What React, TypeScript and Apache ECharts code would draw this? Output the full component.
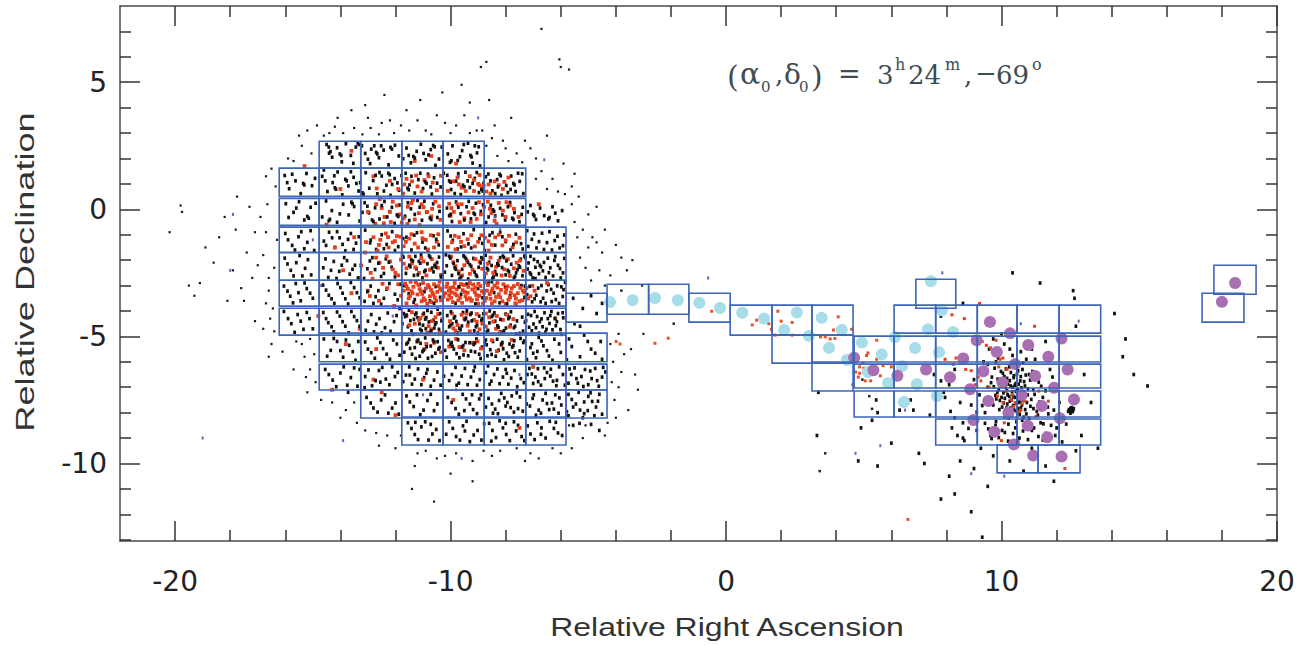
import React, { useEffect, useRef } from "react";
import * as echarts from "echarts";

const xMajor = [-20, -10, 0, 10, 20];
const xMinor = [-18, -16, -14, -12, -8, -6, -4, -2, 2, 4, 6, 8, 12, 14, 16, 18];
const yMajor = [5, 0, -5, -10];
const yMinor = [7, 6, 4, 3, 2, 1, -1, -2, -3, -4, -6, -7, -8, -9, -11, -12, -13];

const lmcRaEdges = [-16.22, -14.77, -13.26, -11.77, -10.27, -8.78, -7.27, -5.81, -4.32];
const lmcRows = [
  [1, 5, 2.68, 1.62], [0, 6, 1.62, 0.51], [0, 6, 0.43, -0.63], [0, 7, -0.7, -1.69], [0, 7, -1.71, -2.79],
  [0, 7, -2.79, -3.81], [0, 7, -3.89, -4.95], [1, 8, -4.87, -6.0], [1, 8, -6.09, -7.11], [2, 8, -7.11, -8.21], [3, 7, -8.17, -9.27],
];
const smcRaEdges = [4.65, 6.1, 7.61, 9.12, 10.56, 12.09, 13.6];
const smcRows = [
  [1, 6, -3.77, -4.87], [0, 6, -4.99, -6.01], [0, 6, -6.09, -7.03], [0, 6, -7.15, -8.17], [2, 6, -8.25, -9.27],
];
const extraTiles = [
  [-4.32, -2.95, -2.81, -4.13], [-2.81, -2.95, -1.35, -4.13], [-1.35, -3.3, 0.15, -4.44], [-5.81, -3.3, -4.32, -4.44],
  [0.15, -3.77, 1.67, -4.95], [1.67, -3.77, 3.12, -4.95], [3.12, -3.77, 4.61, -4.95],
  [1.67, -4.95, 3.12, -6.05], [3.12, -4.95, 4.61, -6.05], [3.12, -6.01, 4.61, -7.15],
  [6.89, -2.75, 8.34, -3.89], [9.84, -9.27, 11.33, -10.37], [11.33, -9.27, 12.85, -10.37],
  [17.71, -2.2, 19.24, -3.34], [17.28, -3.3, 18.8, -4.44],
];

const purpleFields = [
  [9.58,-4.43],[10.31,-4.88],[9.10,-5.15],[12.18,-5.08],[10.97,-5.34],[9.83,-5.61],[8.61,-5.87],[11.70,-5.80],[4.65,-5.84],[5.35,-6.33],
  [6.22,-6.55],[7.26,-6.30],[8.13,-6.61],[9.34,-6.37],[10.49,-6.09],[11.22,-6.56],[12.40,-6.30],[10.03,-6.81],[11.91,-7.02],[8.86,-7.08],
  [10.73,-7.31],[9.52,-7.54],[12.63,-7.48],[11.46,-7.74],[10.25,-8.00],[8.98,-8.29],[12.12,-8.22],[10.95,-8.51],[9.74,-8.75],[11.66,-8.97],
  [10.45,-9.25],[11.15,-9.69],[12.18,-9.73],[18.48,-2.90],[18.0,-3.64],
];
const cyanFields = [
  [-4.21,-3.65],[-3.39,-3.58],[-2.58,-3.49],[-1.75,-3.58],[-0.97,-3.68],[-0.22,-3.88],[0.59,-4.07],[1.38,-4.30],[2.57,-4.06],[2.11,-4.75],
  [3.47,-4.27],[4.20,-4.75],[3.01,-4.98],[3.74,-5.45],[4.93,-5.24],[5.65,-5.71],[7.44,-2.83],[7.84,-3.97],[7.33,-4.72],[8.24,-4.83],
  [6.13,-5.03],[6.86,-5.46],[7.73,-5.62],[6.39,-6.17],[5.15,-6.40],[5.88,-6.84],[6.93,-6.88],[7.66,-7.35],[6.46,-7.58],[4.39,-5.93],
];

const blackHalo = [
  [-20.2,-0.9],[-19.8,0.15],[-19.75,-0.1],[-19.5,-3],[-19.3,-3.4],[-19.1,-2.9],[-18.6,-2.1],[-18.4,-1.1],[-18.1,-3.6],[-17.8,-0.8],[-17.75,0.5],[-17.4,-1.7],[-17.2,-2.7],[-17.1,-4.4],[-16.9,-0.3],[-16.7,1.3],[-16.6,-3.2],[-16.5,-5.3],[-16.3,-1.2],[-16.35,0.9],[-16.4,-2.3],[-16.45,-3.9],[-16.1,-5.6],[-15.7,-6.3],[-15.3,-5.8],[-15.2,-7.2],[-15.05,2.2],[-14.9,-6.8],[-14.85,3.3],[-14.6,2.9],[-14.3,-7.6],[-14.1,3.6],[-13.8,-7.9],[-13.6,3.9],[-13.4,-8.4],[-13.1,4.1],[-12.9,3.2],[-12.7,-8.8],[-12.4,4.5],[-12.2,3.5],[-12,-9.4],[-11.8,-8.9],[-11.6,3.9],[-11.4,-11],[-11.3,-10.1],[-11.1,4.3],[-10.9,3.1],[-10.6,-11.5],[-10.5,-9.8],[-10.3,4.6],[-10.2,3.4],[-10,-10.4],[-9.8,-9.6],[-9.6,4.9],[-9.5,3.7],[-9.3,4.2],[-9.2,-10.7],[-9.05,3.1],[-8.9,5.6],[-8.7,5.8],[-8.6,4.3],[-8.5,-9.7],[-8.4,3.3],[-8.2,-9.5],[-8,2.4],[-7.8,3.6],[-7.6,-9.4],[-7.3,2.7],[-7.1,-9.6],[-6.9,2],[-6.7,7.1],[-6.5,2.9],[-6.3,-9.4],[-6.05,5.9],[-6,5.6],[-5.9,1.8],[-5.7,5.5],[-5.5,1.4],[-5.6,0.9],[-5.35,0.5],[-5.2,-9],[-5.1,-8.5],[-5,-0.2],[-4.85,-1.1],[-4.7,0.1],[-4.5,-1.7],[-4.4,-0.8],[-4.3,-8.4],[-4.2,-2.6],[-4,-1.4],[-3.9,-4.9],[-3.7,-5.7],[-3.6,-2.4],[-3.55,-7.9],[-3.45,-5.5],[-3.3,-6.5],[-3.2,-7.1],[-3.05,-3],[-3,-4.9],[-4.15,-6.8],[-4.05,-7.5],[-3.8,-6.4],[-16.8,-4.7],[-17.6,-3.1],[-18.9,-1.5],[-15.4,2.5],[-15.7,1.9],[-15.1,-6.3],
];
const blackLmcNorth = [
  [-14.5,2.55],[-14.3,2.05],[-14.12,2.42],[-13.95,1.87],[-13.8,2.58],[-13.62,2.12],[-13.44,2.45],[-13.1,2.2],[-12.92,1.8],[-12.77,2.5],[-12.6,2.03],[-12.43,2.33],[-12.25,1.75],[-12.02,2.52],[-11.88,2.1],[-11.6,2.41],[-11.44,1.83],[-11.23,2.28],[-11.08,2.56],[-10.9,1.95],[-10.72,2.35],[-10.55,1.73],[-10.1,2.18],[-9.93,2.5],[-9.74,1.92],[-9.58,2.31],[-9.37,2.6],[-9.2,1.82],[-9.04,2.22],[-8.93,1.71],
  [-16.02,1.33],[-15.86,0.81],[-15.63,1.12],[-15.44,0.62],[-15.23,1.41],[-15.03,0.93],[-14.66,1.3],[-14.47,0.7],[-14.28,1.05],[-14.1,1.47],[-13.93,0.57],[-13.71,0.92],[-13.52,1.26],[-13.34,0.72],[-13.08,1.44],[-12.95,0.83],[-12.81,1.13],[-12.66,0.61],[-12.5,1.31],[-12.33,0.95],[-12.18,0.55],[-12.03,1.21],[-11.87,0.75],[-11.63,1.42],[-11.49,0.96],[-11.3,0.64],[-11.17,1.17],[-11,0.82],[-10.82,1.38],[-10.68,0.6],[-10.49,1.03],[-10.12,1.34],[-9.98,0.78],[-9.8,1.11],[-9.63,0.58],[-9.46,1.46],[-9.3,0.86],[-9.12,1.22],[-8.97,0.66],[-8.8,1.03],[-8.63,1.39],[-8.48,0.73],[-8.31,1.17],[-8.15,0.55],[-7.98,0.94],[-7.8,1.31],[-7.64,0.7],[-7.49,1.1],
  [-15.98,0.22],[-15.7,-0.12],[-15.5,0.3],[-15.31,-0.42],[-15.08,0.08],[-14.66,-0.3],[-14.52,0.33],[-14.31,-0.05],[-14.12,-0.51],[-13.9,0.2],[-13.7,-0.22],[-13.5,0.11],[-13.3,-0.46],[-13.12,0.26],[-12.96,-0.14],[-12.74,0.06],[-12.58,-0.38],[-12.4,0.31],[-12.22,-0.09],[-12.03,-0.55],[-11.86,0.17],[-11.65,-0.27],[-11.44,0.02],[-11.2,0.35],[-11.04,-0.43],[-10.88,-0.11],[-10.63,0.22],[-10.48,-0.32],[-10.13,0.05],[-9.95,-0.48],[-9.8,0.29],[-9.63,-0.17],[-9.42,0.1],[-9.26,-0.37],[-9.08,0.24],[-8.9,-0.08],[-8.71,-0.52],[-8.54,0.16],[-8.38,-0.26],[-8.2,0.04],[-8.02,-0.42],[-7.84,0.27],[-7.68,-0.13],[-7.5,-0.49],[-7.2,-0.1],[-7.1,0.15],[-6.9,-0.4],[-6.6,-0.25],[-6.3,0.1],[-6.1,-0.45],
];
const blackLmcCentre = [
  [-16,-0.95],[-15.75,-1.42],[-15.52,-1.08],[-15.31,-1.55],[-15.08,-0.84],[-14.6,-1.25],[-14.41,-0.9],[-14.2,-1.5],[-14.03,-1.12],[-13.82,-1.63],[-13.62,-0.95],[-13.43,-1.33],[-13.1,-0.82],[-12.9,-1.21],[-12.7,-1.58],[-12.5,-1],[-12.32,-1.38],[-12.12,-0.88],[-11.9,-1.47],[-11.6,-1.1],[-11.42,-1.6],[-11.22,-0.92],[-11.02,-1.29],[-10.83,-1.65],[-10.62,-1.04],[-10.43,-1.4],[-10.11,-0.85],[-9.92,-1.22],[-9.75,-1.56],[-9.53,-0.96],[-9.35,-1.36],[-9.16,-0.8],[-8.95,-1.16],[-8.76,-1.62],[-8.58,-1.02],[-8.38,-1.41],[-8.2,-0.9],[-8,-1.27],[-7.82,-1.59],[-7.63,-0.98],[-7.44,-1.35],[-7.22,-0.84],[-7.05,-1.18],[-6.88,-1.52],[-6.68,-0.94],[-6.5,-1.31],[-6.32,-1.6],[-6.12,-1.06],[-5.92,-1.43],
  [-16.02,-1.92],[-15.8,-2.4],[-15.6,-2.1],[-15.38,-2.62],[-15.18,-1.98],[-14.62,-2.3],[-14.44,-2.68],[-14.24,-2.05],[-14.04,-2.44],[-13.86,-1.9],[-13.66,-2.55],[-13.47,-2.2],[-13.14,-2.72],[-12.93,-2.03],[-12.74,-2.37],[-12.52,-2.64],[-12.35,-1.95],[-12.14,-2.28],[-11.62,-2.52],[-11.43,-1.98],[-11.24,-2.34],[-11.02,-2.7],[-10.84,-2.14],[-10.62,-2.46],[-10.42,-1.88],[-10.14,-2.22],[-9.95,-2.6],[-9.75,-2.02],[-9.58,-2.36],[-9.36,-2.74],[-9.17,-1.93],[-8.98,-2.28],[-8.77,-2.66],[-8.6,-2.08],[-8.38,-2.44],[-8.2,-1.9],[-8,-2.58],[-7.8,-2.16],[-7.62,-2.5],[-7.45,-1.96],[-7.2,-2.35],[-7.02,-2.7],[-6.84,-2.06],[-6.65,-2.42],[-6.47,-1.92],[-6.28,-2.62],[-6.1,-2.2],[-5.92,-2.5],[-6.92,-2.28],[-7.1,-1.85],
  [-16.05,-3.02],[-15.82,-3.42],[-15.62,-2.92],[-15.44,-3.6],[-15.22,-3.12],[-15.0,-3.5],[-14.63,-2.98],[-14.42,-3.38],[-14.22,-3.7],[-14,-3.08],[-13.82,-3.52],[-13.62,-2.88],[-13.4,-3.28],[-13.12,-3.62],[-12.9,-3.02],[-12.72,-3.44],[-12.52,-3.73],[-12.33,-3.14],[-11.92,-3.56],[-11.7,-3.0],[-11.52,-3.32],[-11.34,-3.66],[-11.12,-2.96],[-10.95,-3.24],[-10.75,-3.6],[-10.54,-3.04],[-10.38,-3.46],[-10.02,-3.2],[-9.82,-3.7],[-9.62,-3.34],[-9.42,-2.94],[-9.22,-3.58],[-9,-3.12],[-8.84,-3.48],[-8.62,-2.9],[-8.42,-3.28],[-8.22,-3.68],[-8.02,-3.06],[-7.84,-3.4],[-7.62,-3.74],[-7.43,-3],[-7.22,-3.36],[-7.04,-3.64],[-6.82,-3.1],[-6.64,-3.5],[-6.45,-2.96],[-6.26,-3.3],[-6.06,-3.7],[-5.9,-3.16],[-5.55,-3.5],[-5.2,-3.9],[-4.9,-3.4],[-4.7,-4.1],[-4.5,-3.7],
];
const blackLmcSouth = [
  [-16.05,-4.02],[-15.78,-4.5],[-15.55,-4.14],[-15.34,-4.72],[-15.12,-4.3],[-14.62,-4.06],[-14.44,-4.46],[-14.24,-4.82],[-14.02,-4.2],[-13.82,-4.6],[-13.6,-4.02],[-13.4,-4.38],[-13.08,-4.76],[-12.88,-4.14],[-12.7,-4.52],[-12.5,-4.86],[-12.28,-4.08],[-12.05,-4.42],[-11.7,-4.1],[-11.55,-4.62],[-11.36,-4.92],[-11.2,-4.26],[-11,-4.56],[-10.84,-3.98],[-10.62,-4.36],[-10.42,-4.72],[-10.12,-4.18],[-9.94,-4.5],[-9.75,-4.86],[-9.55,-4.06],[-9.36,-4.44],[-9.14,-4.78],[-8.96,-4.2],[-8.76,-4.6],[-8.58,-4],[-8.38,-4.4],[-8.2,-4.82],[-8,-4.12],[-7.82,-4.56],[-7.62,-4.9],[-7.4,-4.24],[-7.15,-4.64],[-6.95,-4.02],[-6.76,-4.42],[-6.56,-4.84],[-6.38,-4.18],[-6.18,-4.58],[-5.98,-4.92],[-11.85,-3.9],[-11.75,-4.5],[-10.9,-4.7],[-10.7,-4.05],
  [-14.6,-5.1],[-14.35,-5.55],[-14.12,-5.2],[-13.9,-5.82],[-13.68,-5.35],[-13.45,-5.94],[-13.1,-5.22],[-12.88,-5.64],[-12.66,-5.06],[-12.45,-5.48],[-12.2,-5.9],[-11.95,-5.3],[-11.68,-5.62],[-11.5,-5.12],[-11.3,-5.44],[-11.12,-5.78],[-10.92,-5.06],[-10.72,-5.38],[-10.55,-5.66],[-10.08,-5.16],[-9.88,-5.5],[-9.68,-5.84],[-9.46,-5.24],[-9.26,-5.58],[-9.06,-5.1],[-8.86,-5.42],[-8.66,-5.76],[-8.46,-5.2],[-8.26,-5.54],[-8.06,-5.92],[-7.86,-5.3],[-7.66,-5.64],[-7.46,-5.08],[-7.1,-5.44],[-6.9,-5.84],[-6.7,-5.18],[-6.5,-5.56],[-6.3,-5.94],[-6.06,-5.3],[-5.6,-5.4],[-5.3,-5.8],[-5.02,-5.2],[-4.75,-5.66],[-4.5,-5.9],[-5.15,-4.95],
  [-14.55,-6.3],[-14.28,-6.72],[-14,-6.44],[-13.75,-6.92],[-13.5,-6.24],[-13.1,-6.58],[-12.85,-6.94],[-12.6,-6.34],[-12.35,-6.68],[-12.12,-6.2],[-11.62,-6.52],[-11.4,-6.88],[-11.18,-6.28],[-10.96,-6.62],[-10.72,-6.96],[-10.48,-6.4],[-10.05,-6.74],[-9.82,-6.22],[-9.6,-6.56],[-9.38,-6.9],[-9.16,-6.36],[-8.94,-6.7],[-8.64,-6.16],[-8.42,-6.5],[-8.22,-6.86],[-8,-6.3],[-7.8,-6.64],[-7.58,-6.98],[-7.14,-6.26],[-6.92,-6.6],[-6.72,-6.92],[-6.5,-6.42],[-6.28,-6.76],[-6.06,-6.2],[-5.62,-6.5],[-5.38,-6.84],[-5.12,-6.3],[-4.88,-6.66],[-4.62,-6.96],[-4.38,-6.4],
  [-13.05,-7.4],[-12.8,-7.82],[-12.52,-7.5],[-12.26,-8.02],[-12,-7.62],[-11.6,-7.34],[-11.34,-7.76],[-11.1,-8.08],[-10.84,-7.52],[-10.6,-7.92],[-10.1,-7.4],[-9.82,-7.84],[-9.56,-7.28],[-9.3,-7.66],[-9.04,-8.04],[-8.62,-7.44],[-8.38,-7.86],[-8.16,-7.24],[-7.94,-7.6],[-7.7,-7.98],[-7.48,-7.38],[-7.12,-7.74],[-6.9,-8.1],[-6.66,-7.5],[-6.42,-7.88],[-6.2,-7.3],[-5.98,-7.7],[-5.6,-7.48],[-5.3,-7.9],[-5,-7.36],[-4.72,-7.78],[-4.5,-8.06],
  [-11.55,-8.4],[-11.3,-8.86],[-11.06,-8.56],[-10.8,-9.08],[-10.52,-8.66],[-10.05,-8.36],[-9.8,-8.94],[-9.55,-8.52],[-9.3,-9.14],[-9.02,-8.7],[-8.6,-8.42],[-8.35,-8.98],[-8.1,-8.6],[-7.85,-9.1],[-7.55,-8.5],[-7.1,-8.84],[-6.85,-8.4],[-6.55,-9],[-6.25,-8.62],[-5.95,-8.9],
];
const blackFillNorth = [
  [-14.41,2.21],[-14.36,2.27],[-14.02,2.18],[-13.97,2.12],[-13.53,1.81],[-13.37,2.61],[-13.33,2.55],[-13,1.97],[-12.88,2.37],[-12.7,2.24],[-12.66,2.18],[-12.18,2.44],[-12.13,2.37],[-11.72,1.99],[-11.35,2.08],[-11.3,2.02],[-10.8,2.14],[-10.63,2.51],[-10.58,2.46],[-10.42,1.98],[-10.02,1.85],[-9.97,1.91],[-9.66,2.07],[-9.28,2.12],[-9.24,2.06],[-8.98,2.46],
  [-15.93,1.05],[-15.75,1.38],[-15.35,1.02],[-15.31,0.96],[-14.92,1.22],[-14.55,1.12],[-14.2,0.85],[-14.16,0.79],[-13.82,1.18],[-13.77,1.12],[-13.42,1.02],[-13.2,0.65],[-13.16,0.59],[-12.72,1.34],[-12.42,0.72],[-12.26,1.42],[-12.21,1.36],[-11.93,1.04],[-11.78,1.33],[-11.56,0.83],[-11.52,0.77],[-11.1,1.42],[-10.92,1.08],[-10.87,1.02],[-10.6,1.24],[-10.36,0.88],[-10.05,1.12],[-10,1.07],[-9.72,1.4],[-9.55,0.95],[-9.5,0.89],[-9.2,1.02],[-9.05,1.45],[-8.88,0.78],[-8.83,0.72],[-8.55,1.12],[-8.38,0.62],[-8.22,1.38],[-8.18,1.32],[-7.92,0.66],[-7.72,1.02],[-7.68,0.96],[-7.4,1.4],[-7.36,0.62],
  [-15.88,-0.32],[-15.6,0.05],[-15.2,-0.28],[-15.15,-0.35],[-14.9,0.24],[-14.42,-0.45],[-14.38,-0.39],[-14.02,-0.18],[-13.6,0.28],[-13.56,0.22],[-13.2,-0.12],[-13.02,0.12],[-12.85,-0.42],[-12.8,-0.48],[-12.5,0.15],[-12.3,-0.3],[-12.13,0.08],[-11.95,-0.22],[-11.9,-0.28],[-11.55,0.26],[-11.5,-0.44],[-11.3,-0.2],[-11.12,0.08],[-10.95,0.32],[-10.75,-0.34],[-10.7,-0.4],[-10.4,-0.08],[-10.05,-0.25],[-10,-0.2],[-9.72,0.08],[-9.5,-0.42],[-9.34,0.31],[-9.16,-0.15],[-9.12,-0.2],[-8.82,0.18],[-8.62,-0.3],[-8.46,-0.02],[-8.42,-0.08],[-8.12,-0.22],[-7.92,0.1],[-7.76,-0.35],[-7.72,-0.4],[-7.42,-0.2],[-7.38,0.08],[-7,-0.2],[-6.96,-0.26],[-6.75,0.05],[-6.45,-0.38],[-6.41,-0.32],[-6.2,-0.15],[-5.95,-0.05],
];
const blackFillCore = [
  [-11.76,-1.82],[-11.71,-1.88],[-11.5,-2.2],[-11.46,-2.26],[-11.33,-2.6],[-11.28,-1.85],[-11.15,-2.05],[-11.1,-2.12],[-10.95,-2.45],[-10.91,-2.4],[-10.78,-1.82],[-10.74,-1.88],[-10.58,-2.22],[-10.53,-2.28],[-10.35,-2.66],[-10.3,-2.6],[-10.05,-1.85],[-10.01,-1.92],[-9.85,-2.3],[-9.81,-2.36],[-9.67,-2.72],[-9.62,-2.66],[-9.48,-1.88],[-9.44,-1.94],[-9.3,-2.18],[-9.25,-2.24],[-9.08,-2.58],[-9.04,-2.64],[-8.88,-1.9],[-8.83,-1.96],[-8.68,-2.32],[-8.64,-2.38],[-8.48,-2.72],[-8.44,-2.66],[-8.3,-2.14],[-8.26,-2.2],[-8.1,-1.84],[-8.06,-1.9],[-7.92,-2.4],[-7.88,-2.46],[-7.7,-2.7],[-7.66,-2.64],[-7.52,-2.22],[-7.48,-2.28],[-7.32,-1.84],[-7.28,-1.9],[-7.12,-2.5],[-7.08,-2.56],[-6.92,-2.72],[-6.76,-2.2],[-6.72,-2.26],[-6.55,-2.68],[-6.38,-2.3],[-6.2,-1.86],[-6,-2.7],
  [-11.65,-4.22],[-11.6,-4.16],[-11.46,-4.38],[-11.42,-4.78],[-11.28,-4.14],[-11.24,-4.08],[-11.1,-4.72],[-11.05,-4.78],[-10.92,-4.32],[-10.88,-4.26],[-10.74,-4.84],[-10.7,-4.78],[-10.56,-4.52],[-10.52,-4.46],[-10.38,-4.1],[-10.05,-4.62],[-10.01,-4.56],[-9.88,-4.28],[-9.84,-4.22],[-9.68,-4.68],[-9.64,-4.74],[-9.48,-4.34],[-9.44,-4.28],[-9.28,-4.14],[-9.24,-4.08],[-9.08,-4.62],[-9.04,-4.56],[-8.88,-4.36],[-8.84,-4.3],[-8.68,-4.82],[-8.64,-4.76],[-8.5,-4.22],[-8.46,-4.16],[-8.3,-4.58],[-8.26,-4.64],[-8.1,-4.84],[-8.06,-4.78],[-7.9,-4.3],[-7.86,-4.24],[-7.7,-4.66],[-7.66,-4.6],[-7.5,-4.88],[-7.3,-4.44],[-7.26,-4.38],[-7.05,-4.78],[-6.86,-4.22],[-6.66,-4.62],[-6.47,-4.3],[-6.3,-4.74],[-6.1,-4.1],
  [-11.6,-5.3],[-11.55,-5.24],[-11.4,-5.7],[-11.22,-5.2],[-11.18,-5.14],[-11.02,-5.6],[-10.98,-5.54],[-10.82,-5.86],[-10.64,-5.14],[-10.6,-5.2],[-10.44,-5.5],[-10.4,-5.44],[-10.14,-5.82],[-10,-5.3],[-9.96,-5.24],[-9.78,-5.68],[-9.58,-5.42],[-9.54,-5.36],[-9.36,-5.76],[-9.16,-5.32],[-9.12,-5.26],[-8.96,-5.7],[-8.76,-5.2],[-8.72,-5.14],[-8.56,-5.52],[-8.36,-5.78],[-8.16,-5.3],[-8.12,-5.24],[-7.96,-5.66],[-7.76,-5.42],[-7.72,-5.36],[-7.56,-5.82],[-7.36,-5.24],[-7.32,-5.18],[-7,-5.66],[-6.8,-5.04],
  [-11.8,-2.95],[-11.3,-3.55],[-10.6,-3.7],[-9.7,-3.05],[-9.1,-3.72],[-8.5,-2.85],[-7.95,-3.72],[-7.3,-3.02],[-6.95,-3.52],[-6.7,-3],[-6.55,-3.7],[-6.35,-3.15],[-6.18,-3.55],[-5.98,-3.05],
];
const blackFillWest = [
  [-15.9,-1.2],[-15.65,-1.6],[-15.42,-0.88],[-15.2,-1.3],[-14.95,-1.62],[-14.52,-1.42],[-14.3,-1.12],[-14.12,-0.88],[-13.92,-1.38],[-13.72,-1.18],[-13.52,-1.58],[-13.33,-1.08],
  [-15.92,-2.15],[-15.7,-2.62],[-15.48,-1.82],[-15.28,-2.32],[-15.06,-2.58],[-14.54,-1.95],[-14.34,-2.4],[-14.14,-2.72],[-13.95,-2.2],[-13.76,-2.02],[-13.56,-2.36],[-13.36,-2.7],[-13.02,-2.34],[-12.84,-1.9],[-12.62,-2.12],[-12.42,-2.52],[-12.24,-2.08],[-12.02,-2.66],
  [-15.92,-3.22],[-15.72,-3.68],[-15.52,-3.28],[-15.3,-2.9],[-15.1,-3.3],[-14.52,-3.18],[-14.32,-3.52],[-14.1,-2.92],[-13.92,-3.3],[-13.72,-3.72],[-13.5,-3.08],[-13.3,-3.48],[-13.02,-3.24],[-12.8,-3.7],[-12.62,-3.2],[-12.42,-3.5],[-12.22,-2.92],[-12.02,-3.34],
  [-15.9,-4.3],[-15.66,-4.84],[-15.44,-4.4],[-15.22,-4.06],[-15,-4.7],[-14.52,-4.3],[-14.32,-4.62],[-14.12,-4.04],[-13.92,-4.42],[-13.7,-4.86],[-13.5,-4.22],[-13.3,-4.6],[-13,-4.4],[-12.78,-4.82],[-12.58,-4.3],[-12.38,-4.66],[-12.18,-4.8],[-11.96,-4.18],
  [-14.48,-5.78],[-14.24,-5.08],[-14,-5.56],[-13.8,-5.14],[-13.55,-5.6],[-13.35,-5.2],[-13,-5.5],[-12.75,-5.86],[-12.55,-5.24],[-12.32,-5.7],[-12.08,-5.14],[-11.85,-5.74],
];
const blackFillSouth = [
  [-14.42,-6.5],[-14.15,-6.98],[-13.88,-6.2],[-13.62,-6.62],[-13.38,-6.96],[-12.98,-6.32],[-12.72,-6.74],[-12.48,-6.22],[-12.22,-6.9],[-11.92,-6.42],[-11.72,-6.78],[-11.5,-6.2],[-11.3,-6.68],[-11.06,-6.9],[-10.84,-6.3],[-10.6,-6.72],[-10.36,-6.92],[-9.95,-6.5],[-9.7,-6.84],[-9.48,-6.26],[-9.26,-6.6],[-9.04,-6.92],[-8.72,-6.42],[-8.52,-6.76],[-8.3,-6.28],[-8.1,-6.6],[-7.9,-6.88],[-7.68,-6.34],[-7.45,-6.66],[-7.05,-6.48],[-6.82,-6.78],[-6.6,-6.24],[-6.38,-6.56],[-6.16,-6.94],[-5.92,-6.5],[-5.72,-6.84],[-5.5,-6.24],[-5.25,-6.58],[-5,-6.9],[-4.75,-6.26],[-4.5,-6.6],
  [-12.9,-7.62],[-12.65,-7.98],[-12.38,-7.3],[-12.12,-7.82],[-11.88,-8.06],[-11.48,-7.58],[-11.22,-7.3],[-10.98,-7.9],[-10.72,-7.28],[-10.48,-7.66],[-9.96,-7.6],[-9.7,-8.06],[-9.44,-7.46],[-9.18,-7.88],[-8.9,-7.3],[-8.5,-7.66],[-8.28,-8.04],[-8.05,-7.42],[-7.82,-7.8],[-7.6,-7.22],[-7.38,-7.94],[-7.02,-7.44],[-6.8,-7.9],[-6.55,-7.24],[-6.32,-7.62],[-6.08,-8.02],[-5.72,-7.28],[-5.45,-7.66],[-5.15,-8.04],[-4.86,-7.56],[-4.6,-7.28],
  [-11.42,-8.62],[-11.18,-9.06],[-10.92,-8.36],[-10.66,-8.84],[-10.4,-9.1],[-9.92,-8.62],[-9.66,-9.08],[-9.42,-8.34],[-9.16,-8.88],[-8.88,-9.08],[-8.48,-8.7],[-8.22,-8.32],[-7.98,-8.86],[-7.7,-8.36],[-7.42,-8.94],[-7.2,-8.52],[-6.95,-9.06],[-6.7,-8.6],[-6.4,-8.34],[-6.1,-8.8],
  [-5.55,-8.5],[-5.2,-8.2],[-4.9,-8.46],[-4.6,-8.7],[-5.5,-4.5],[-5.3,-4.6],[-5.7,-5.1],[-4.9,-5.5],[-4.55,-5.2],
];
const blackFillEdge = [
  [-16.8,-1.8],[-16.7,-0.9],[-16.65,0.2],[-16.6,-2.7],[-16.55,-4.3],[-16.7,-3.7],[-17,-2.2],[-17.1,-0.9],[-17.3,0.1],[-17.5,-3.6],[-17.9,-2.4],[-18.2,-0.3],[-16.5,1.6],[-16.4,-4.8],[-16.6,-5.8],[-15.6,-5.2],[-15.4,-5.3],[-15.1,-5.1],[-15.25,-6.6],[-14.95,-5.7],[-15.9,2],[-15.5,2.9],[-15.2,3.1],[-14.4,3],[-14.2,3.25],[-13.9,3],[-13.5,3.2],[-13.2,2.95],[-13,3.6],[-12.6,2.95],[-12.5,3.4],[-12.05,3],[-11.8,3.3],[-11.5,3.1],[-11.2,3.5],[-10.7,2.95],[-10.5,3.7],[-10,3],[-9.8,3.3],[-9.3,3],[-8.85,3.1],[-8.7,2.5],[-8.5,2.8],[-8.3,2.1],[-8.1,2.7],[-7.9,1.9],[-7.6,2.2],[-7.4,1.85],[-7.1,2.4],[-6.9,1.2],[-6.7,1.5],[-6.5,0.8],[-6.3,1.2],[-6.1,0.7],[-5.85,0.6],[-5.6,0.2],[-5.5,-0.5],[-5.4,-1.1],[-5.3,-1.9],[-5.2,-0.8],[-5.1,-2.3],[-5,-1.5],[-4.9,-2.8],[-4.7,-1.3],[-4.6,-2.4],[-4.4,-3],[-3.8,-1.9],[-3.4,-2],[-5.7,-8.5],[-4,-8.2],[-4.2,-5.3],[-4.1,-6],[-3.9,-7],[-4.4,-8.9],[-5.6,-9.4],[-6,-9.6],[-6.8,-9.8],[-7.3,-9.9],[-8.8,-9.5],[-9.2,-9.9],[-10.2,-9.7],[-10.9,-9.5],[-11.2,-9.6],[-12.3,-8.9],[-12.6,-9.3],[-13.1,-8.7],[-13.5,-7.6],[-14,-8.2],[-14.7,-7.5],
];
const blackClumps = [
  [-11.37,-2.03],[-11.19,-2.58],[-11.07,-1.78],[-10.67,-2.31],[-10.49,-2.09],[-10.21,-2.47],[-10.17,-1.79],[-9.89,-2.13],[-9.71,-2.53],[-9.53,-1.83],[-9.37,-2.09],[-9.13,-2.47],[-8.91,-2.11],[-8.73,-1.81],[-8.51,-2.21],[-8.33,-2.57],[-8.13,-2.29],[-7.97,-2.03],[-7.73,-1.83],[-7.57,-2.37],[-7.39,-2.61],[-7.17,-2.11],[-6.97,-1.97],[-6.79,-2.53],[-6.61,-2.09],[-6.43,-2.49],[-6.23,-2.01],[-6.03,-2.33],[-5.87,-1.93],
  [-11.51,-3.97],[-11.33,-4.33],[-11.13,-4.51],[-10.97,-4.09],[-10.79,-4.43],[-10.59,-4.67],[-10.47,-3.93],[-10.33,-4.39],[-10.17,-4.83],[-9.99,-4.03],[-9.79,-4.41],[-9.59,-4.59],[-9.41,-3.99],[-9.23,-4.39],[-9.01,-4.87],[-8.81,-4.11],[-8.59,-4.47],[-8.41,-4.07],[-8.19,-4.33],[-7.99,-4.67],[-7.81,-4.03],[-7.59,-4.39],[-7.37,-4.79],[-7.19,-4.13],[-6.99,-4.51],[-6.79,-4.87],[-6.59,-4.07],[-6.41,-4.49],[-6.21,-4.29],[-6.01,-4.73],[-5.91,-4.27],
  [-11.47,-5.47],[-11.27,-5.87],[-11.09,-5.27],[-10.87,-5.41],[-10.67,-5.79],[-10.47,-5.21],[-10.2,-5.55],[-9.93,-5.39],[-9.73,-5.13],[-9.53,-5.73],[-9.31,-5.25],[-9.11,-5.61],[-8.91,-5.87],[-8.69,-5.33],[-8.51,-5.71],[-8.31,-5.11],[-8.09,-5.49],[-7.89,-5.79],[-7.69,-5.17],[-7.49,-5.57],[-7.23,-5.91],[-7.05,-5.29],[-6.85,-5.59],[-6.63,-5.37],[-6.43,-5.77],[-6.23,-5.11],[-6,-5.63],[-5.78,-5.92],
  [-7.18,-1.46],[-6.97,-0.97],[-6.79,-1.27],[-6.61,-1.58],[-6.41,-0.88],[-6.22,-1.23],[-6.04,-1.52],[-5.87,-1.01],[-7.31,-3.47],[-7.13,-3.03],[-6.89,-3.38],[-6.73,-3.64],[-6.51,-3.21],[-6.33,-3.63],[-6.13,-3.01],[-5.93,-3.43],[-5.84,-2.87],[-7.08,-4.18],[-6.9,-4.66],[-6.7,-4.31],[-6.52,-4.72],[-6.34,-4.02],[-6.14,-4.42],[-5.93,-4.07],
  [-7.21,-6.5],[-7,-6.85],[-6.83,-6.27],[-6.58,-6.66],[-6.36,-6.29],[-6.14,-6.73],[-5.85,-6.92],[-5.68,-6.28],[-5.43,-6.66],[-5.18,-6.97],[-4.93,-6.36],[-4.68,-6.74],[-4.46,-6.22],[-5.35,-7.2],[-5.15,-7.58],[-4.92,-7.22],[-4.65,-7.55],[-5.55,-7.78],[-5.78,-7.96],[-6.05,-7.42],[-6.25,-7.86],[-6.5,-7.64],[-6.72,-8.02],[-6.98,-7.3],[-7.24,-7.66],[-7.55,-7.84],[-7.78,-7.34],[-8,-7.74],[-8.24,-7.52],[-8.46,-8.02],[-8.72,-7.78],[-8.96,-7.46],[-9.22,-7.3],[-9.5,-7.92],
  [-12.92,-1.32],[-12.42,-1.55],[-12.02,-1.62],[-11.72,-1.15],[-11.32,-1.02],[-10.92,-1.52],[-10.52,-1.18],[-10,-1.05],[-9.62,-1.48],[-9.25,-1.52],[-8.85,-1.34],[-8.48,-0.92],[-8.12,-1.08],[-7.72,-1.38],[-7.38,-1.56],
  [-14.6,1.55],[-14.22,1.32],[-13.62,1.48],[-13.28,1.05],[-12.58,1.45],[-12.12,0.98],[-11.42,1.3],[-10.72,0.88],[-10.25,1.42],[-9.85,0.62],[-9.38,1.12],[-8.72,1.28],[-8.28,0.88],[-7.82,0.78],[-7.55,1.42],[-14.42,2.45],[-13.22,2.5],[-12.52,2.5],[-11.52,2.12],[-10.98,2.2],[-10.32,2.45],[-9.52,2.55],[-9.12,2.5],
  [-13.72,-7.2],[-13.3,-6.3],[-13.12,-7.02],[-12.55,-6.8],[-12.02,-6.58],[-11.48,-6.52],[-10.88,-6.45],[-10.24,-6.56],[-9.78,-6.92],[-9.12,-6.2],[-8.58,-6.88],[-7.96,-6.45],[-7.34,-6.82],[-11.28,-8.38],[-10.72,-8.46],[-10.16,-8.85],[-9.48,-8.72],[-8.78,-8.44],[-8.52,-9.12],[-8,-8.42],[-7.62,-8.72],[-7.32,-9.1],[-6.72,-8.85],[-6.18,-8.38],[-5.72,-8.12],[-5.32,-8.42],[-5.02,-7.92],[-4.78,-8.12],
];
const blackSmc = [
  [4.9,-8.6],[6.7,-7.5],[6.8,-7.9],[7.4,-8.1],[7.9,-7.2],[8.1,-6.9],[8.3,-6.3],[8.5,-7.6],[8.6,-8.4],[8.65,-9.1],[8.9,-7.7],[9,-6.7],[9.1,-8.7],[9.2,-7.3],[9.25,-9.4],[9.35,-6],[9.4,-8],[9.5,-7],[9.55,-5.5],[9.6,-8.9],[9.65,-6.6],[9.7,-7.7],[9.75,-6.25],[9.8,-8.35],[9.85,-7.2],[9.88,-5.85],[9.92,-7.88],[9.96,-6.9],[10,-7.4],[10.02,-8.7],[10.05,-6.45],[10.08,-7.62],[10.1,-5.3],[10.12,-8.15],[10.15,-7],[10.18,-7.82],[10.2,-6.65],[10.22,-7.3],[10.25,-8.45],[10.28,-6.2],[10.3,-7.55],[10.33,-6.95],[10.35,-8.02],[10.38,-7.18],[10.4,-5.75],[10.42,-7.72],[10.45,-6.55],[10.48,-7.4],[10.5,-8.6],[10.52,-6.85],[10.55,-7.95],[10.58,-7.08],[10.6,-6.35],[10.62,-7.6],[10.65,-9],[10.68,-6.75],[10.7,-7.82],[10.72,-7.25],[10.75,-8.3],[10.78,-6.05],[10.8,-7.5],[10.85,-6.95],[10.9,-8.05],[10.95,-7.3],[11,-6.5],[11.05,-7.75],[11.1,-8.7],[11.15,-7.1],[11.22,-5.9],[11.28,-7.95],[11.35,-6.8],[11.42,-8.4],[11.5,-7.4],[11.6,-5.2],[11.7,-8.05],[11.85,-6.6],[11.95,-8.9],[12.1,-7.6],[12.2,-9.15],[12.35,-8.45],[12.55,-7.95],[12.5,-7.85],[12.6,-7.9],[12.45,-7.88],[12.55,-7.8],[12.65,-3.5],[12.6,-3.2],[12.7,-4.6],[13,-6.5],[13.25,-7.6],[14.1,-4.1],[14.4,-5.8],[14.8,-6.5],[15.3,-6.95],[14.5,-5.1],[11.4,-2.9],[10.4,-2.5],[8.6,-3.7],[7.8,-4.2],[6.3,-7.9],[5.3,-8.3],[8.1,-10.5],[8.3,-11.2],[9,-10.2],[9.5,-10.9],[10.8,-10.3],[11.6,-10.1],[7.2,-10],[5.5,-10.1],[4.8,-9.9],[8.9,-11.9],[9.3,-12.9],[7.8,-11.4],[11.9,-10.7],[12.7,-9.5],[12.9,-8.9],[13.5,-9.4],[6,-9.2],[7,-9.6],[8.5,-9.9],[9.7,-9.7],[10.3,-9.9],[11.1,-9.4],[3.3,-8.9],[3.35,-7.2],[5.45,-7.5],[5.5,-8],
];
const blackSmcCore = [
  [9.62,-6.82],[9.72,-6.98],[9.78,-7.32],[9.81,-7.46],[9.86,-6.68],[9.9,-7.1],[9.94,-7.52],[9.98,-6.38],[10.02,-7.78],[10.04,-6.82],[10.07,-7.22],[10.1,-6.58],[10.12,-7.44],[10.14,-7.92],[10.16,-6.28],[10.19,-7.14],[10.21,-7.66],[10.24,-6.88],[10.26,-8.22],[10.28,-7.36],[10.3,-6.74],[10.32,-7.82],[10.34,-6.42],[10.36,-7.5],[10.38,-8.12],[10.4,-7],[10.42,-7.34],[10.44,-6.62],[10.46,-7.9],[10.48,-6.92],[10.5,-7.62],[10.52,-7.16],[10.54,-8.36],[10.56,-6.48],[10.58,-7.46],[10.6,-7.84],[10.62,-6.88],[10.64,-7.28],[10.66,-8.06],[10.68,-7.56],[10.7,-6.58],[10.72,-7.02],[10.74,-7.7],[10.76,-6.3],[10.78,-7.42],[10.8,-8.18],[10.82,-6.78],[10.84,-7.2],[10.86,-7.88],[10.88,-6.52],[10.92,-7.6],[10.96,-7.06],[11,-8.22],[11.04,-6.72],[11.08,-7.48],[11.12,-6.38],[11.16,-7.84],[11.2,-7.28],[11.26,-6.62],[11.32,-8.1],[11.38,-7.58],[11.44,-6.96],[11.52,-8.44],[11.6,-7.14],[11.68,-7.78],[11.76,-6.3],
  [9.4,-8.42],[9.52,-8.64],[9.64,-9.02],[9.78,-8.5],[9.9,-8.98],[10.12,-8.78],[10.24,-9.12],[10.42,-8.82],[10.6,-9.16],[10.78,-8.72],[10.96,-9.06],[11.18,-8.6],[11.34,-8.94],[11.5,-9.08],[11.8,-8.5],[9.3,-7.72],[9.1,-7.98],[8.8,-8.62],[8.6,-9],[8.2,-8.6],[9.7,-5.1],[10,-4.9],[10.3,-5.5],[10.7,-5.6],[10.9,-5.9],[11.1,-5.5],[9.5,-6.1],[9.8,-6],[12.52,-7.82],[12.48,-7.92],[12.58,-7.96],[12.62,-7.84],[12.42,-7.95],[12.5,-8.02],[11.9,-7.9],[12,-8.6],[8.4,-8.9],[7.3,-6.2],[7.55,-6.5],[7.8,-6.75],[7.95,-7.4],[8.15,-7.95],[8.3,-8.2],
];
const blackBridge = [
  [4.95,-6.7],[5.2,-7.35],[5.3,-7.85],[-3.8,-3.2],[-1.9,-4.5],[3.6,-9.6],[3.4,-10.3],
];
const redLmc = [
  [-12.8,-1.1],[-12.6,-1.4],[-12.35,-0.95],[-12.1,-1.3],[-11.95,-1.05],[-11.7,-1.45],[-11.5,-1.15],[-11.3,-1.35],[-11.05,-0.9],[-10.9,-1.2],[-10.6,-1.5],[-10.45,-0.98],[-9.95,-1.3],[-9.7,-1.1],[-9.5,-1.45],[-9.25,-1.02],[-9,-1.28],[-8.75,-1.12],[-8.5,-1.4],[-8.25,-1],[-8,-1.22],[-7.75,-1.5],[-12.7,-1.9],[-12.45,-2.3],[-12.2,-2.05],[-12,-2.5],[-11.8,-1.98],[-11.6,-2.32],[-11.4,-2.12],[-11.15,-2.5],[-10.98,-2.05],[-10.75,-2.38],[-10.55,-2.16],[-10.35,-2.58],[-9.9,-2.08],[-9.7,-2.44],[-9.5,-2.2],[-9.3,-2.54],[-9.1,-1.96],[-8.85,-2.34],[-8.65,-2.14],[-8.45,-2.5],[-8.25,-2.02],[-8.05,-2.36],[-7.85,-2.62],[-7.6,-2.1],[-7.35,-2.42],
  [-11.9,-2.95],[-11.7,-3.2],[-11.52,-3.5],[-11.35,-3.05],[-11.2,-3.35],[-11.05,-3.62],[-10.9,-3.12],[-10.75,-3.42],[-10.6,-2.95],[-10.48,-3.25],[-10.35,-3.58],[-10.15,-3.05],[-10.05,-3.38],[-9.92,-3.65],[-9.78,-3.15],[-9.65,-3.48],[-9.52,-2.98],[-9.38,-3.28],[-9.25,-3.6],[-9.1,-3.08],[-8.96,-3.4],[-8.82,-3.7],[-8.68,-3.2],[-8.55,-3.52],[-8.4,-3],[-8.25,-3.34],[-8.12,-3.62],[-7.98,-3.14],[-7.84,-3.46],[-7.7,-3.02],[-7.56,-3.3],[-7.4,-3.58],[-7.25,-3.1],[-7.1,-3.42],[-6.95,-3.2],[-11.8,-3.4],[-11.45,-2.85],[-11,-2.9],[-10.7,-3.65],[-10.4,-2.85],[-10.1,-3.55],[-9.85,-2.9],[-9.58,-3.68],[-9.3,-2.9],[-9,-3.72],[-8.75,-2.88],[-8.5,-3.7],[-8.3,-2.9],[-8,-3.72],[-7.65,-3.7],[-11.6,-3.7],[-11.25,-3.78],[-10.85,-3.72],
  [-11.6,-4.2],[-11.3,-4.5],[-11,-4.15],[-10.8,-4.6],[-10.55,-4.25],[-10.4,-4.85],[-9.95,-4.1],[-9.75,-4.55],[-9.5,-4.3],[-9.3,-4.8],[-9.05,-4.12],[-8.85,-4.5],[-8.6,-4.25],[-8.35,-4.7],[-8.1,-4.35],[-7.85,-4.62],[-11.2,-5.2],[-10.95,-5.5],[-10.6,-5.25],[-10.05,-5.4],[-9.8,-5.1],[-9.5,-5.55],[-9.2,-5.25],[-8.9,-5.48],[-8.5,-5.15],[-8.15,-5.35],
  [-13,-0.1],[-12.7,0.2],[-12.4,-0.3],[-12.1,0.3],[-11.85,-0.2],[-11.55,0.1],[-11.3,-0.4],[-11.05,0.2],[-10.85,-0.1],[-10.55,0.3],[-10,-0.25],[-9.75,0.2],[-9.5,-0.35],[-9.2,0.05],[-8.9,-0.2],[-8.65,0.3],[-8.4,-0.45],[-8.1,-0.05],[-7.85,0.15],[-11.9,0.8],[-11.6,1.2],[-11.2,0.9],[-10.8,1.3],[-10.5,0.75],[-9.9,1.1],[-9.6,0.85],[-9.3,1.3],[-9,1],[-8.7,0.7],[-8.95,0.95],[-8.85,0.85],[-8.4,1.1],[-8.1,0.8],[-7.9,1.25],
  [-14.2,-1.5],[-13.9,-2.4],[-14.5,-0.6],[-13.5,-1.1],[-13.3,-2.7],[-13.1,-1.7],[-12.9,-2.5],[-13.6,-3.3],[-13,-3.2],[-12.6,-3.6],[-12.3,-3.1],[-12.05,-3.8],[-14.8,-4.2],[-13.8,-5.3],[-13.3,-4.7],[-12.8,-6.7],[-12.5,-7.2],[-12,-8.1],[-15.3,1.7],[-14,0.8],[-13.6,2.3],[-12.8,1.3],[-6.5,-2.9],[-6.2,-4.3],[-7,-6.2],[-7.5,-8.6],[-9.9,-7.5],[-11,-6.7],[-12.7,-5.5],[-14.3,-7.1],[-6.8,0.2],
];
const redFillCore = [
  [-11.65,-2.92],[-11.6,-3.02],[-11.42,-3.22],[-11.38,-3.3],[-11.26,-2.88],[-11.12,-3.14],[-11.08,-3.22],[-10.98,-3.5],[-10.82,-2.98],[-10.78,-3.06],[-10.66,-3.28],[-10.62,-3.36],[-10.52,-3.6],[-10.44,-3.02],[-10.38,-3.12],[-10.2,-3.3],[-10.12,-2.92],[-10.06,-3.2],[-9.98,-3.48],[-9.9,-3.06],[-9.84,-3.32],[-9.72,-3.58],[-9.62,-2.94],[-9.56,-3.18],[-9.46,-3.42],[-9.36,-3.05],[-9.3,-3.5],[-9.18,-2.96],[-9.12,-3.26],[-9.04,-3.54],[-8.92,-3.02],[-8.86,-3.22],[-8.76,-3.6],[-8.64,-2.98],[-8.58,-3.34],[-8.48,-3.12],[-8.4,-3.62],[-8.3,-3.08],[-8.2,-3.46],[-8.08,-2.95],[-8,-3.28],[-7.9,-3.56],[-7.78,-3.1],[-7.68,-3.38],[-7.56,-2.94],[-7.5,-3.62],[-7.38,-3.2],[-7.3,-3.46],
  [-12.55,-1.2],[-12.25,-1.5],[-12.02,-1.25],[-11.82,-1.08],[-11.62,-1.28],[-11.42,-0.98],[-11.18,-1.5],[-11.02,-1.14],[-10.72,-1.02],[-10.5,-1.28],[-10.1,-1.48],[-9.85,-1.04],[-9.62,-1.28],[-9.38,-1.18],[-9.12,-1.46],[-8.88,-1.02],[-8.62,-1.26],[-8.38,-1.1],[-8.12,-1.42],[-7.88,-1.04],[-7.62,-1.3],
  [-12.58,-2.1],[-12.32,-1.85],[-12.1,-2.36],[-11.9,-2.6],[-11.7,-2.14],[-11.5,-1.86],[-11.28,-2.28],[-11.06,-1.92],[-10.88,-2.6],[-10.68,-1.96],[-10.46,-2.3],[-9.98,-1.86],[-9.82,-2.24],[-9.58,-2.6],[-9.4,-2.02],[-9.2,-2.38],[-8.95,-2.06],[-8.72,-2.52],[-8.55,-1.9],[-8.35,-2.26],[-8.15,-2.6],[-7.92,-1.96],[-7.7,-2.32],[-7.48,-2.02],
  [-12.5,0.05],[-12.2,-0.1],[-11.95,0.15],[-11.7,-0.35],[-11.42,0.25],[-11.15,-0.15],[-10.98,0.08],[-10.7,-0.28],[-10.42,0.12],[-10.05,0.22],[-9.88,-0.1],[-9.6,0.2],[-9.35,-0.12],[-9.05,-0.38],[-8.78,0.1],[-8.52,-0.15],[-8.25,0.25],[-8,-0.3],[-7.7,0.02],
  [-11.72,0.62],[-11.4,1.1],[-11.05,0.7],[-10.65,1.05],[-10.1,0.72],[-9.75,1.25],[-9.45,0.72],[-9.15,1.15],[-8.8,0.92],[-8.55,0.62],[-8.25,0.95],[-11.3,1.9],[-10.7,2.1],[-9.8,1.8],
  [-11.4,-4.05],[-11.15,-4.35],[-10.85,-4.85],[-10.68,-4.4],[-10.45,-4.12],[-10.02,-4.4],[-9.82,-4.78],[-9.6,-4.15],[-9.38,-4.58],[-9.15,-4.35],[-8.95,-4.72],[-8.72,-4.1],[-8.45,-4.42],[-8.2,-4.85],[-7.95,-4.15],
];
const redClumps = [
  [-11.55,-3.13],[-11.47,-3.41],[-11.17,-2.97],[-11.03,-3.33],[-10.93,-3.57],[-10.71,-3.17],[-10.57,-3.47],[-10.31,-3.19],[-10.25,-3.43],[-10.01,-3.09],[-9.95,-3.27],[-9.77,-3.39],[-9.69,-3.05],[-9.49,-3.25],[-9.41,-3.55],[-9.21,-3.15],[-9.07,-3.37],[-8.99,-2.93],[-8.79,-3.29],[-8.71,-3.49],[-8.51,-3.23],[-8.35,-3.45],[-8.17,-3.17],[-7.93,-3.03],[-7.81,-3.27],[-7.63,-3.51],[-7.47,-3.09],[-7.33,-3.27],[-7.19,-3.51],[-7.03,-3.01],
  [-13.25,-2.21],[-12.83,-2.73],[-13.07,-1.29],[-12.65,-1.63],[-12.93,-3.41],[-12.47,-2.93],[-12.73,-0.57],[-12.27,-1.09],[-12.57,0.4],[-12.17,-0.5],[-11.77,-0.52],[-11.37,0.36],[-11.57,-0.58],[-11.12,-0.62],[-10.67,0.02],[-10.37,-0.41],[-9.97,0.05],[-9.67,-0.5],[-9.27,-0.5],[-8.97,0.28],[-8.57,0.02],[-8.33,-0.57],[-7.97,0.28],[-7.53,-0.3],[-11.68,0.98],[-11.25,1.33],[-10.95,1.15],[-10.35,1.32],[-9.7,0.98],[-9.15,0.72],[-8.95,1.35],[-8.62,0.98],[-8.05,1.08],[-12.68,0.82],[-12.2,1.12],[-12.42,-0.55],[-10.82,-1.58],[-9.82,-1.58],[-8.62,-1.62],[-7.5,-1.12],
  [-11.5,-4.56],[-11.1,-4.28],[-10.7,-4.72],[-10.3,-4.32],[-9.9,-4.68],[-9.42,-4.1],[-9.05,-4.42],[-8.72,-4.62],[-8.32,-4.2],[-7.72,-4.32],[-10.88,-5.3],[-10.35,-5.62],[-9.68,-5.42],[-9.02,-5.2],[-8.32,-5.58],[-7.78,-5.14],
];
const redSmc = [
  [9.3,-5.2],[9.45,-5.35],[9.6,-5.45],[9.8,-5.15],[9.9,-5.5],[10.05,-5.85],[9.95,-5.9],[8.35,-5.85],[8.5,-6],[8.25,-6.1],[7.95,-5.9],[8.7,-6.3],[8.9,-6.35],[9.15,-6.6],[9.25,-6.75],[9.05,-6.9],[9.55,-7],[9.85,-7.35],[10.05,-7.6],[10.2,-7.15],[10.35,-7.5],[10.45,-7.75],[10.6,-7.35],[10.7,-7.9],[10.85,-7.55],[10.3,-8.05],[10.55,-8.25],[10.1,-8.4],[10.9,-8.5],[11.25,-8.15],[11.35,-7.15],[11.7,-7.55],[10.2,-6.3],[9.9,-6.2],[11.6,-8.8],[9.2,-3.7],[8.2,-4.15],[10,-9.1],[8.65,-4.3],[11.2,-4.6],[12,-7.1],[12.3,-10.2],[10.4,-7.3],[10.5,-7.6],[10.65,-7.95],[10.25,-7.85],[10.75,-7.65],
];
const redBridge = [
  [-0.52,-4.01],[1.88,-4.01],[1.11,-4.36],[0.95,-4.55],[1.55,-4.5],[2.0,-4.4],[2.4,-4.45],[1.65,-4.72],[1.78,-4.95],[2.4,-4.95],[4.07,-4.23],[3.9,-4.75],[4.56,-4.72],[3.43,-5.02],[3.6,-5.02],[3.78,-5.1],[3.95,-5.08],[5.47,-5.15],[5.15,-5.65],[5.1,-5.75],[5.47,-5.9],[4.85,-6.2],[4.97,-6.05],[5,-6.25],[4.85,-6.45],[4.8,-6.6],[5.05,-6.75],[5.25,-6.75],[6,-6.2],[5.7,-6.15],[6.25,-6.25],[5.6,-6.55],[-3.99,-5.2],[-3.85,-5.3],[-2.58,-5.27],[-2.1,-5.07],[4.7,-6.4],[4.6,-6.9],[6.6,-12.2],
];
const blueStars = [
  [-14.7,-3],[-9.6,-9.8],[-18,-2.4],[-9,3.6],[-8.4,-0.3],[-11,-7.3],[6.5,-7.9],[7.85,-2.5],[5.6,-9.3],[4.7,-9.6],[8.9,-10.4],[10.1,-10.5],[10.7,-4.5],[12.8,-4.4],[-17.9,-0.2],[-19,-9],[-13.9,-9.1],[-8.2,-0.8],[-10.9,-3.1],[-9.7,1.3],[-12.1,-4.2],[-7.5,-6.5],[-9.8,-7.1],[-15,-1.2],[-6.6,1.95],[-0.65,-2.7],
];

const stars = (data: number[][], color: string, size: any, name: string) => ({
  type: "scatter", name, data, symbol: "rect", symbolSize: size,
  itemStyle: { color, opacity: 1 }, silent: true, z: 2,
});
const fields = (data: number[][], color: string, name: string) => ({
  type: "scatter", name, data, symbol: "circle", symbolSize: 12,
  itemStyle: { color, opacity: 1 }, silent: true, z: 3,
});

const tiles: number[][] = [];
const addRows = (edges: number[], rows: number[][]) => {
  rows.forEach(([from, to, top, bottom]) => {
    for (let i = from; i < to; i++) tiles.push([edges[i], top, edges[i + 1], bottom]);
  });
};
addRows(lmcRaEdges, lmcRows);
addRows(smcRaEdges, smcRows);
tiles.push(...extraTiles);

const AXIS_COLOR = "#4a4a4a";
const hideAxisBits = { axisLabel: { show: false }, splitLine: { show: false } };
const DOT = [2.8, 3.6];

const App = () => {
  const ref = useRef<HTMLDivElement>(null);
  useEffect(() => {
    document.body.style.margin = "0";
    const chart = echarts.init(ref.current!, undefined, { renderer: "svg" });
    const xBase = { type: "value", min: -22, max: 20, gridIndex: 0, splitLine: { show: false } };
    const yBase = { type: "value", min: -13.05, max: 8, gridIndex: 0, splitLine: { show: false } };
    const line = { show: true, onZero: false, lineStyle: { color: AXIS_COLOR, width: 1.5 } };
    const noLine = { show: false, onZero: false };
    const tickStyle = { color: "#333", width: 1.5 };
    const labelStyle = { fontFamily: "DejaVu Sans", fontSize: 28, color: "#222" };
    chart.setOption({
      animation: false,
      backgroundColor: "#ffffff",
      grid: { left: 120, right: 33, top: 6, bottom: 104, containLabel: false },
      xAxis: [
        { ...xBase, position: "bottom", axisLine: line, axisTick: { show: true, inside: true, length: 20, lineStyle: tickStyle, customValues: xMajor },
          axisLabel: { show: true, margin: 26, ...labelStyle, customValues: xMajor } },
        { ...xBase, ...hideAxisBits, position: "top", axisLine: line, axisTick: { show: true, inside: true, length: 20, lineStyle: tickStyle, customValues: xMajor } },
        { ...xBase, ...hideAxisBits, position: "bottom", axisLine: noLine, axisTick: { show: true, inside: true, length: 11, lineStyle: tickStyle, customValues: xMinor } },
        { ...xBase, ...hideAxisBits, position: "top", axisLine: noLine, axisTick: { show: true, inside: true, length: 11, lineStyle: tickStyle, customValues: xMinor } },
      ],
      yAxis: [
        { ...yBase, position: "left", axisLine: line, axisTick: { show: true, inside: true, length: 20, lineStyle: tickStyle, customValues: yMajor },
          axisLabel: { show: true, margin: 13, ...labelStyle, customValues: yMajor } },
        { ...yBase, ...hideAxisBits, position: "right", axisLine: line, axisTick: { show: true, inside: true, length: 20, lineStyle: tickStyle, customValues: yMajor } },
        { ...yBase, ...hideAxisBits, position: "left", axisLine: noLine, axisTick: { show: true, inside: true, length: 11, lineStyle: tickStyle, customValues: yMinor } },
        { ...yBase, ...hideAxisBits, position: "right", axisLine: noLine, axisTick: { show: true, inside: true, length: 11, lineStyle: tickStyle, customValues: yMinor } },
      ],
      series: [
        stars(blackHalo, "#1a1a1a", 2.2, "halo"),
        stars(blackFillEdge, "#1a1a1a", 2.2, "edge"),
        stars(blackLmcNorth, "#111", DOT, "lmc north"),
        stars(blackLmcCentre, "#111", DOT, "lmc centre"),
        stars(blackLmcSouth, "#111", DOT, "lmc south"),
        stars(redFillCore, "#e63f1c", [3.8, 3.8], "red core"),
        stars(redLmc, "#e63f1c", [3.8, 3.8], "red lmc"),
        stars(redClumps, "#e63f1c", [3.8, 3.8], "red clumps"),
        stars(blackFillNorth, "#111", DOT, "fill north"),
        stars(blackFillCore, "#111", DOT, "fill core"),
        stars(blackFillWest, "#111", DOT, "fill west"),
        stars(blackFillSouth, "#111", DOT, "fill south"),
        stars(blackClumps, "#111", DOT, "clumps"),
        stars(blackSmc, "#111", DOT, "smc"),
        stars(blackSmcCore, "#111", DOT, "smc core"),
        stars(blackBridge, "#222", 2.5, "bridge"),
        stars(blueStars, "#5a66b8", [2, 3], "blue"),
        stars(redSmc, "#e63f1c", [3, 3], "red smc"),
        stars(redBridge, "#e9512b", [3, 3], "red bridge"),
        fields(cyanFields, "#a7dde9", "cyan fields"),
        fields(purpleFields, "#a870b2", "purple fields"),
        {
          type: "custom", name: "tiles", data: tiles, silent: true, z: 4, clip: false,
          encode: { x: [0, 2], y: [1, 3] },
          renderItem: (_: any, api: any) => {
            const a = api.coord([api.value(0), api.value(1)]);
            const b = api.coord([api.value(2), api.value(3)]);
            return {
              type: "rect",
              shape: { x: a[0], y: a[1], width: b[0] - a[0], height: b[1] - a[1] },
              style: { fill: "none", stroke: "#3d66b8", lineWidth: 1.6 },
            };
          },
        },
      ],
      graphic: [
        { type: "text", x: 727, y: 627, style: { text: "Relative Right Ascension", font: '26px "Liberation Sans"', fill: "#333", textAlign: "center", textVerticalAlign: "middle" }, scaleX: 1.23 },
        { type: "text", x: 25, y: 272, rotation: Math.PI / 2, style: { text: "Relative Declination", font: '26px "Liberation Sans"', fill: "#333", textAlign: "center", textVerticalAlign: "middle" }, scaleX: 1.39 },
        ...[
          ["(", 727, 30, 91], ["α", 740, 30, 88], ["0", 761, 15, 94], [",", 775, 26, 87], ["δ", 784, 28, 88], ["0", 799, 15, 94], [")", 811, 30, 91],
          ["=", 838, 27, 87], ["3", 877, 26, 88], ["h", 895, 16, 72], ["24", 908, 26, 88], ["m", 945, 16, 72], [",", 964, 26, 88], ["−", 975, 26, 86],
          ["69", 996, 26, 88], ["o", 1032, 16, 72],
        ].map(([t, x, s, y]) => ({
          type: "text", x, y,
          style: { text: t, font: `${s}px "DejaVu Serif"`, fill: "#3f4c52", textAlign: "left", textVerticalAlign: "bottom" },
        })),
      ],
    });
    return () => chart.dispose();
  }, []);
  return <div ref={ref} style={{ width: 1310, height: 645 }} />;
};

export default App;
